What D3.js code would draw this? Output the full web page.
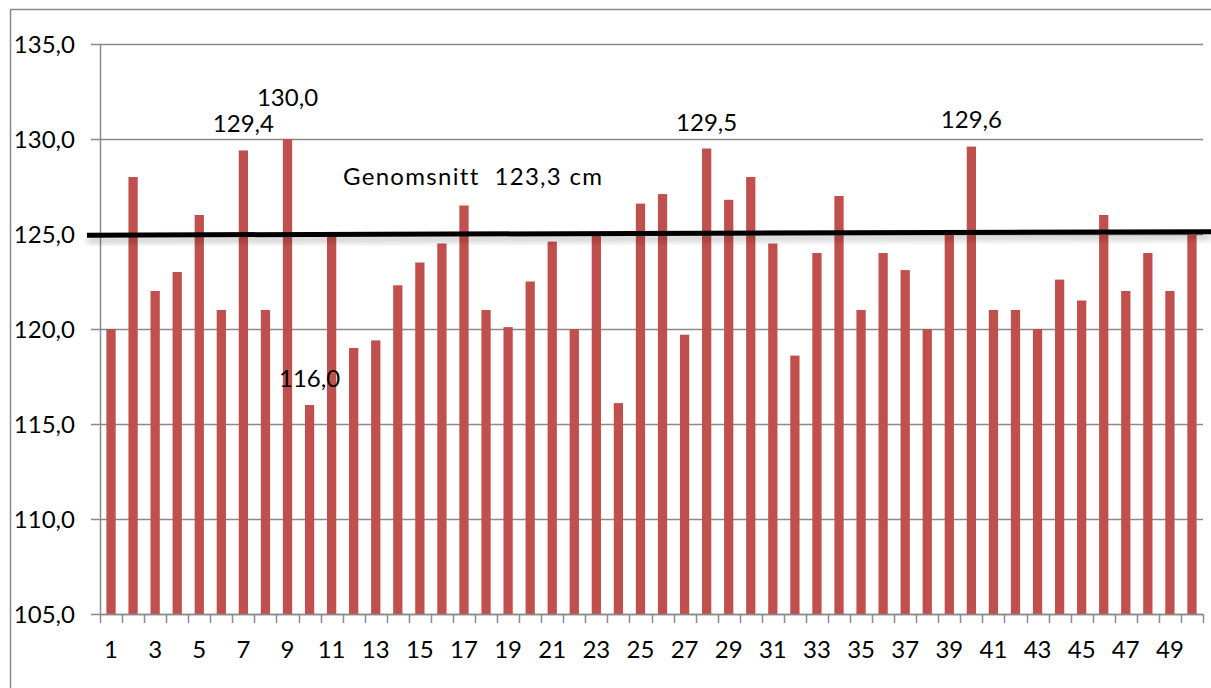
<!DOCTYPE html>
<html>
<head>
<meta charset="utf-8">
<script src="https://cdn.jsdelivr.net/npm/d3@7/dist/d3.min.js"></script>
<style>
  html, body { margin: 0; padding: 0; background: #ffffff; }
  svg { display: block; }
  text { font-family: Lato, "Open Sans", sans-serif; fill: #000; white-space: pre; }
</style>
</head>
<body>
<svg id="chart" width="1211" height="688"></svg>
<script>
// ---- data ----
const categories = d3.range(1, 51).map(String);
const values = [
  120.0, 128.0, 122.0, 123.0, 126.0, 121.0, 129.4, 121.0, 130.0, 116.0,
  125.0, 119.0, 119.4, 122.3, 123.5, 124.5, 126.5, 121.0, 120.1, 122.5,
  124.6, 120.0, 125.0, 116.1, 126.6, 127.1, 119.7, 129.5, 126.8, 128.0,
  124.5, 118.6, 124.0, 127.0, 121.0, 124.0, 123.1, 120.0, 125.0, 129.6,
  121.0, 121.0, 120.0, 122.6, 121.5, 126.0, 122.0, 124.0, 122.0, 125.0
];
const yTicks = [105, 110, 115, 120, 125, 130, 135];
const xTickLabels = categories.filter((c, i) => i % 2 === 0);
const labelledBars = ["7", "9", "10", "28", "40"];
const labelOffsets = { "7": 18, "9": 33, "10": 18, "28": 18, "40": 19 };
const avgText = "Genomsnitt  123,3 cm";
const avgTextValue = 127.6;       // vertical anchor of annotation text (data units)
const avgLineStart = 124.94;      // the drawn mean line (as in the original picture)
const avgLineEnd = 125.12;

// ---- layout ----
const svg = d3.select("#chart");
const W = 1211, H = 688;
const margin = { left: 100, right: 8, top: 44, bottom: 74 };
const plotLeft = margin.left, plotRight = W - margin.right;
const plotTop = margin.top, plotBottom = H - margin.bottom;

const x = d3.scaleBand().domain(categories).range([plotLeft, plotRight]).paddingInner(0.58).paddingOuter(0.29);
const xb = d3.scaleBand().domain(categories).range([plotLeft, plotRight]).padding(0);
const y = d3.scaleLinear().domain([105, 135]).range([plotBottom, plotTop]);

const gray = "#8a8a8a";
const barColor = "#C0504D";
const fontSize = 24;

// outer frame
svg.append("path")
  .attr("d", `M10.5,${H + 2} L10.5,9.5 L${W + 2},9.5`)
  .attr("fill", "none").attr("stroke", gray).attr("stroke-width", 1.5);

// horizontal gridlines
svg.append("g").selectAll("line").data(yTicks).join("line")
  .attr("x1", plotLeft - 9).attr("x2", plotRight)
  .attr("y1", d => Math.round(y(d)) + 0.5).attr("y2", d => Math.round(y(d)) + 0.5)
  .attr("stroke", gray).attr("stroke-width", 1.3);

// y axis line
svg.append("line")
  .attr("x1", plotLeft + 0.5).attr("x2", plotLeft + 0.5)
  .attr("y1", y(135)).attr("y2", y(105))
  .attr("stroke", gray).attr("stroke-width", 1.5);

// y labels
svg.append("g").selectAll("text").data(yTicks).join("text")
  .attr("x", plotLeft - 25).attr("y", d => y(d))
  .attr("dy", "0.36em")
  .attr("text-anchor", "end")
  .attr("font-size", fontSize)
  .text(d => d3.format(".1f")(d).replace(".", ","));

// x ticks at band boundaries
const boundaries = categories.map(c => xb(c)).concat([plotRight]);
svg.append("g").selectAll("line").data(boundaries).join("line")
  .attr("x1", d => Math.round(d) + 0.5).attr("x2", d => Math.round(d) + 0.5)
  .attr("y1", y(105)).attr("y2", y(105) + 9)
  .attr("stroke", gray).attr("stroke-width", 1.5);

// x labels
svg.append("g").selectAll("text").data(xTickLabels).join("text")
  .attr("x", d => xb(d) + xb.bandwidth() / 2)
  .attr("y", y(105) + 44)
  .attr("text-anchor", "middle")
  .attr("font-size", fontSize)
  .text(d => d);

// bars
svg.append("g").selectAll("rect").data(values).join("rect")
  .attr("x", (d, i) => x(categories[i]))
  .attr("width", x.bandwidth())
  .attr("y", d => y(d))
  .attr("height", d => y(105) - y(d))
  .attr("fill", barColor);

// x axis line
svg.append("line")
  .attr("x1", plotLeft).attr("x2", plotRight)
  .attr("y1", Math.round(y(105)) + 0.5).attr("y2", Math.round(y(105)) + 0.5)
  .attr("stroke", gray).attr("stroke-width", 1.5);

// data labels
svg.append("g").selectAll("text").data(labelledBars).join("text")
  .attr("x", c => xb(c) + xb.bandwidth() / 2)
  .attr("y", c => y(values[+c - 1]) - labelOffsets[c])
  .attr("text-anchor", "middle")
  .attr("font-size", fontSize)
  .text(c => d3.format(".1f")(values[+c - 1]).replace(".", ","));

// mean line with soft shadow
const defs = svg.append("defs");
const f = defs.append("filter").attr("id", "shadow").attr("x", "-5%").attr("y", "-300%").attr("width", "110%").attr("height", "700%");
f.append("feGaussianBlur").attr("in", "SourceAlpha").attr("stdDeviation", 3).attr("result", "b");
f.append("feOffset").attr("in", "b").attr("dy", 5).attr("result", "o");
f.append("feComponentTransfer").attr("in", "o").attr("result", "o2")
  .append("feFuncA").attr("type", "linear").attr("slope", 0.25);
const m = f.append("feMerge");
m.append("feMergeNode").attr("in", "o2");
m.append("feMergeNode").attr("in", "SourceGraphic");

svg.append("line")
  .attr("x1", plotLeft - 13).attr("x2", W)
  .attr("y1", y(avgLineStart)).attr("y2", y(avgLineEnd))
  .attr("stroke", "#000").attr("stroke-width", 5)
  .attr("filter", "url(#shadow)");

// annotation text
svg.append("text")
  .attr("x", 343).attr("y", y(avgTextValue))
  .attr("font-size", fontSize)
  .attr("letter-spacing", 1.3)
  .attr("xml:space", "preserve")
  .text(avgText);
</script>
</body>
</html>
